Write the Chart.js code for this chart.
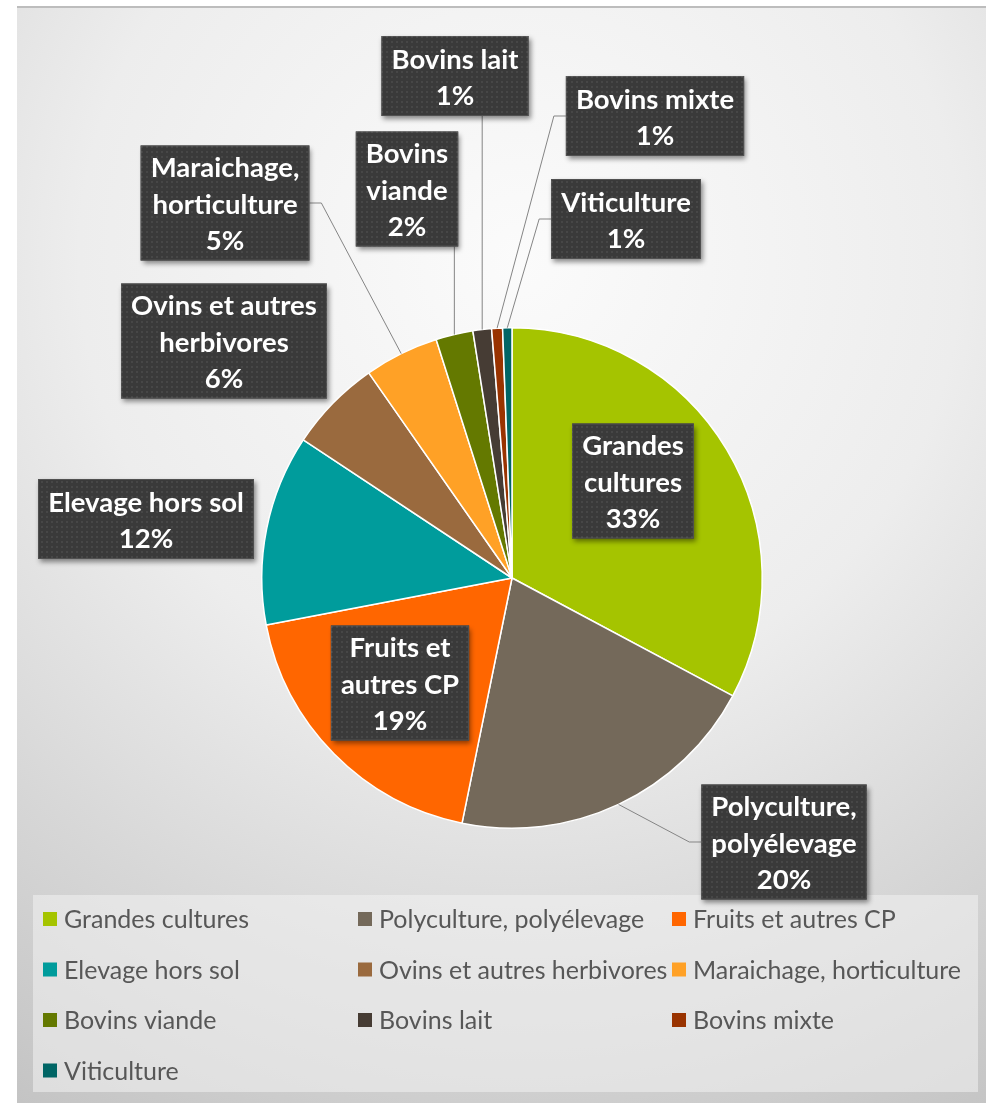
<!DOCTYPE html>
<html><head><meta charset="utf-8">
<script src="https://cdn.jsdelivr.net/npm/chart.js@4.4.0/dist/chart.umd.min.js"></script>
<style>html,body{margin:0;padding:0;background:#fff;overflow:hidden}</style>
</head><body>
<canvas id="c" width="986" height="1103"></canvas>
<script>
// ---- data ----
const categories = ["Grandes cultures", "Polyculture, polyélevage", "Fruits et autres CP",
  "Elevage hors sol", "Ovins et autres herbivores", "Maraichage, horticulture",
  "Bovins viande", "Bovins lait", "Bovins mixte", "Viticulture"];
const shares = [32.8, 20.4, 18.8, 12.3, 6.0, 4.8, 2.4, 1.2, 0.7, 0.6];
const sliceColors = ["#a5c400", "#74695a", "#ff6600", "#009c9c", "#9a6a3e",
  "#ffa126", "#647900", "#463c34", "#993300", "#006565"];

// ---- layout (label box centres, wrap widths, leader style) ----
const labelLayout = [
  {x: 633, y: 481, w: 120, leader: "none"},
  {x: 784, y: 842, w: 165, leader: "side"},
  {x: 400, y: 683, w: 132, leader: "none"},
  {x: 146, y: 519, w: 225, leader: "none"},
  {x: 224, y: 341, w: 210, leader: "none"},
  {x: 225, y: 203, w: 172, leader: "side"},
  {x: 407, y: 189, w: 100, leader: "bottom"},
  {x: 455, y: 76,  w: 160, leader: "bottom"},
  {x: 655, y: 116, w: 195, leader: "side"},
  {x: 626, y: 219, w: 160, leader: "side"}
];
const legendCols = [43, 358, 672];
const legendRow0 = 919, legendRowStep = 50.5;

const LABEL_FONT = "bold 27.5px Lato";
const LEGEND_FONT = "25px Lato";

function wrap(ctx, text, maxW) {
  const words = text.split(" ");
  const lines = [];
  let cur = "";
  for (const w of words) {
    const t = cur ? cur + " " + w : w;
    if (cur && ctx.measureText(t).width > maxW) { lines.push(cur); cur = w; }
    else cur = t;
  }
  if (cur) lines.push(cur);
  return lines;
}

let dotPattern = null;
function getPattern(ctx) {
  if (dotPattern) return dotPattern;
  const pc = document.createElement("canvas");
  pc.width = 5; pc.height = 5;
  const p = pc.getContext("2d");
  p.fillStyle = "#3a3a3a"; p.fillRect(0, 0, 5, 5);
  p.fillStyle = "#474747"; p.fillRect(1, 1, 2, 2);
  dotPattern = ctx.createPattern(pc, "repeat");
  return dotPattern;
}

const backgroundPlugin = {
  id: "bg",
  beforeDraw(chart) {
    const ctx = chart.ctx;
    ctx.save();
    ctx.fillStyle = "#ffffff";
    ctx.fillRect(0, 0, chart.width, chart.height);
    const g = ctx.createRadialGradient(520, 260, 0, 520, 260, 980);
    g.addColorStop(0, "#fbfbfb");
    g.addColorStop(0.45, "#ededed");
    g.addColorStop(0.75, "#d6d6d6");
    g.addColorStop(1, "#c4c4c4");
    ctx.fillStyle = g;
    ctx.fillRect(17, 6, chart.width - 17, chart.height - 6);
    ctx.fillStyle = "#bdbdbd";
    ctx.fillRect(17, 6, chart.width - 17, 2);
    ctx.restore();
  }
};

const overlayPlugin = {
  id: "overlay",
  afterDraw(chart) {
    const ctx = chart.ctx;
    const meta = chart.getDatasetMeta(0);
    const ds = chart.data.datasets[0];
    const total = ds.data.reduce((a, b) => a + b, 0);
    ctx.save();

    // legend
    ctx.fillStyle = "rgba(242,242,242,0.55)";
    ctx.fillRect(33, 895, 945, 197);
    ctx.font = LEGEND_FONT;
    ctx.textBaseline = "middle";
    ctx.textAlign = "left";
    chart.data.labels.forEach((lab, i) => {
      const col = i % 3, row = Math.floor(i / 3);
      const x = legendCols[col], y = legendRow0 + row * legendRowStep;
      ctx.fillStyle = ds.backgroundColor[i];
      ctx.fillRect(x, y - 7, 14, 14);
      ctx.fillStyle = "#575757";
      ctx.fillText(lab, x + 21, y + 1);
    });

    // labels + leaders
    ctx.font = LABEL_FONT;
    const boxes = chart.data.labels.map((lab, i) => {
      const L = labelLayout[i];
      const lines = wrap(ctx, lab, L.w);
      lines.push(Math.round(ds.data[i] / total * 100) + "%");
      const tw = Math.max(...lines.map(s => ctx.measureText(s).width));
      const bw = tw + 20, bh = lines.length * 35 + 10;
      return {lines, left: L.x - bw / 2, top: L.y - bh / 2, w: bw, h: bh, cx: L.x, cy: L.y};
    });

    ctx.strokeStyle = "#858585";
    ctx.lineWidth = 1;
    meta.data.forEach((arc, i) => {
      const L = labelLayout[i];
      if (L.leader === "none") return;
      const b = boxes[i];
      const mid = (arc.startAngle + arc.endAngle) / 2;
      const ax = arc.x + Math.cos(mid) * arc.outerRadius;
      const ay = arc.y + Math.sin(mid) * arc.outerRadius;
      ctx.beginPath();
      ctx.moveTo(ax, ay);
      if (L.leader === "bottom") {
        ctx.lineTo(ax, b.top + b.h);
      } else {
        const onLeft = b.cx > ax;
        const sx = onLeft ? b.left : b.left + b.w;
        const ex = onLeft ? sx - 12 : sx + 12;
        ctx.lineTo(ex, b.cy);
        ctx.lineTo(sx, b.cy);
      }
      ctx.stroke();
    });

    boxes.forEach(b => {
      ctx.save();
      ctx.shadowColor = "rgba(0,0,0,0.45)";
      ctx.shadowBlur = 5;
      ctx.shadowOffsetX = 2;
      ctx.shadowOffsetY = 3;
      ctx.fillStyle = "#3a3a3a";
      ctx.fillRect(b.left, b.top, b.w, b.h);
      ctx.restore();
      ctx.fillStyle = getPattern(ctx);
      ctx.fillRect(b.left, b.top, b.w, b.h);
      ctx.strokeStyle = "rgba(255,255,255,0.12)";
      ctx.strokeRect(b.left + 0.5, b.top + 0.5, b.w - 1, b.h - 1);
      ctx.fillStyle = "#ffffff";
      ctx.textAlign = "center";
      ctx.textBaseline = "middle";
      const n = b.lines.length;
      b.lines.forEach((s, k) => {
        ctx.fillText(s, b.cx, b.cy + 2 + (k - (n - 1) / 2) * 36.5);
      });
    });
    ctx.restore();
  }
};

new Chart(document.getElementById("c"), {
  type: "pie",
  data: {
    labels: categories,
    datasets: [{
      data: shares,
      backgroundColor: sliceColors,
      borderColor: "#ffffff",
      borderWidth: 1.5
    }]
  },
  options: {
    responsive: false,
    animation: false,
    devicePixelRatio: 1,
    layout: {padding: {left: 261, right: 223, top: 327, bottom: 274}},
    plugins: {legend: {display: false}, tooltip: {enabled: false}}
  },
  plugins: [backgroundPlugin, overlayPlugin]
});
</script>
</body></html>
